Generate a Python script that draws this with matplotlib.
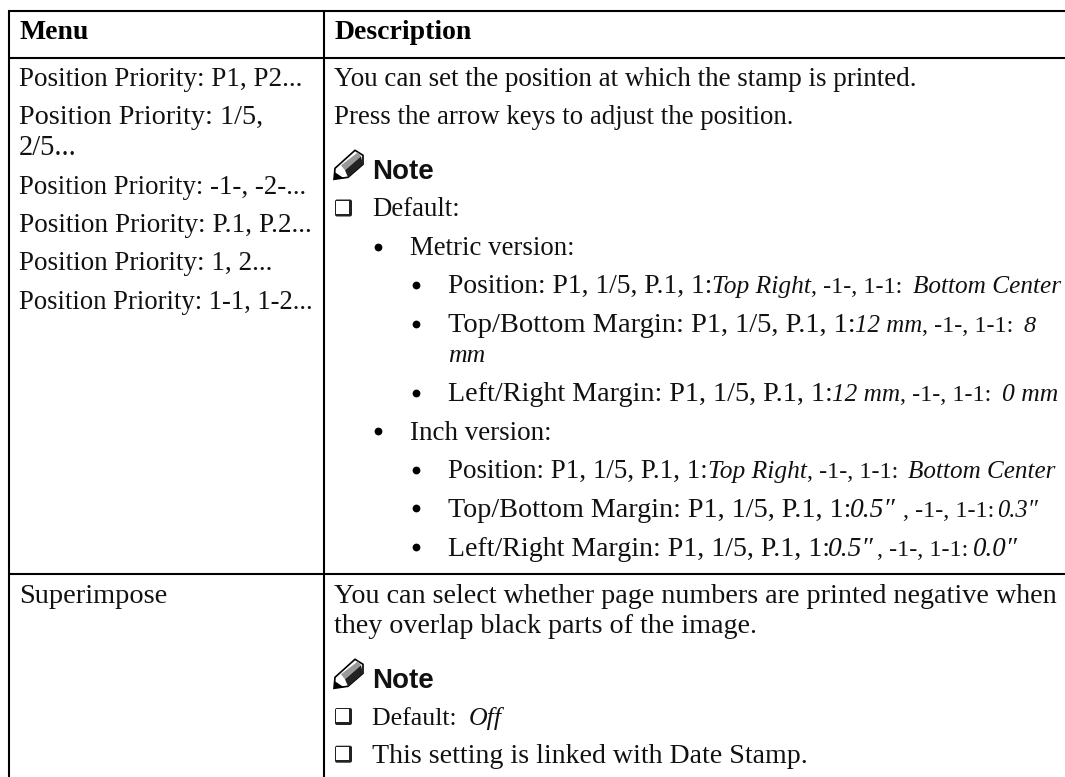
"""
Settings table for the page number stamp, redrawn with matplotlib
"""

import matplotlib
matplotlib.use('Agg')
import matplotlib.pyplot as plt
from matplotlib.patches import Polygon, Rectangle, FancyBboxPatch

W, H = 1065, 777

#table text, a line is a list of (text, italic) pieces
headers = ['Menu', 'Description']

menu_lines = ['Position Priority: P1, P2...',
              'Position Priority: 1/5,',
              '2/5...',
              'Position Priority: -1-, -2-...',
              'Position Priority: P.1, P.2...',
              'Position Priority: 1, 2...',
              'Position Priority: 1-1, 1-2...']

superimpose = 'Superimpose'

intro_1 = ['You can set the position at which the stamp is printed.',
           'Press the arrow keys to adjust the position.']
default_1 = 'Default:'
metric = 'Metric version:'
inch = 'Inch version:'

metric_items = [
    [('Position: P1, 1/5, P.1, 1:', False), ('Top Right', True), (', -1-, 1-1: ', False), ('Bottom Center', True)],
    [('Top/Bottom Margin: P1, 1/5, P.1, 1:', False), ('12 mm', True), (', -1-, 1-1: ', False), ('8', True)],
    [('Left/Right Margin: P1, 1/5, P.1, 1:', False), ('12 mm', True), (', -1-, 1-1: ', False), ('0 mm', True)],
]
inch_items = [
    [('Position: P1, 1/5, P.1, 1:', False), ('Top Right', True), (', -1-, 1-1: ', False), ('Bottom Center', True)],
    [('Top/Bottom Margin: P1, 1/5, P.1, 1:', False), ('0.5\u2033', True), (', -1-, 1-1: ', False), ('0.3\u2033', True)],
    [('Left/Right Margin: P1, 1/5, P.1, 1:', False), ('0.5\u2033', True), (', -1-, 1-1: ', False), ('0.0\u2033', True)],
]

intro_2 = ['You can select whether page numbers are printed negative when',
           'they overlap black parts of the image.']
default_2 = [('Default: ', False), ('Off', True)]
linked = 'This setting is linked with Date Stamp.'

plt.rcParams['font.family'] = ['Liberation Serif', 'DejaVu Sans']
SIZE = 19.4

fig = plt.figure(figsize=(W / 100, H / 100), dpi=100)
ax = fig.add_axes([0, 0, 1, 1])
ax.set_xlim(0, W)
ax.set_ylim(H, 0)
ax.axis('off')
renderer = fig.canvas.get_renderer()


def write(x, y, pieces, ends):
    #each piece is fitted between x and its right end by a small size change
    if isinstance(pieces, str):
        pieces = [(pieces, False)]
    for (txt, italic), end in zip(pieces, ends):
        t = ax.text(x, y, txt, fontsize=SIZE, style='italic' if italic else 'normal',
                    va='baseline', ha='left', color='#111111')
        width = t.get_window_extent(renderer).width
        #the measured width leaves out a trailing space
        room = end - x - (6 if txt.endswith(' ') else 0)
        top = 1.02 if italic else 1.06
        t.set_fontsize(SIZE * min(top, max(0.9, room / width)))
        x = end


def bullet(x, y):
    ax.plot([x], [y], marker='o', ms=5.6, color='black', mew=0)


def checkbox(base):
    ax.add_patch(FancyBboxPatch((335, base - 17), 17, 17, boxstyle='round,pad=0,rounding_size=2',
                                fc='#222222', ec='none'))
    ax.add_patch(Rectangle((336, base - 16), 13, 13, fc='white', ec='none'))


def note(base):
    x = 334
    #pencil icon, white side, grey middle and dark side with a black tip
    ax.add_patch(Polygon([(x, base), (x + 1, base - 11), (x + 21, base - 29), (x + 29, base - 24),
                          (x + 29, base - 15), (x + 14, base - 2)], closed=True, fc='white', ec='black', lw=1.2))
    ax.add_patch(Polygon([(x + 7, base - 14), (x + 24, base - 27), (x + 27, base - 23), (x + 11, base - 9)],
                         closed=True, fc='#999999', ec='none'))
    ax.add_patch(Polygon([(x + 11, base - 9), (x + 27, base - 23), (x + 29, base - 15), (x + 14, base - 2)],
                         closed=True, fc='#222222', ec='none'))
    ax.add_patch(Polygon([(x, base), (x + 1, base - 7), (x + 10, base - 1)], closed=True, fc='black'))
    ax.text(372.5, base, 'Note', fontsize=20, fontweight='bold', family='Liberation Sans',
            va='baseline', ha='left', color='#111111')


#table rules
LW = 1.5
ax.plot([8.5, W], [11, 11], color='black', lw=LW, solid_capstyle='butt')
ax.plot([8.5, W], [58, 58], color='black', lw=LW, solid_capstyle='butt')
ax.plot([8.5, W], [574, 574], color='black', lw=LW, solid_capstyle='butt')
ax.plot([9.3, 9.3], [10, H], color='black', lw=LW, solid_capstyle='butt')
ax.plot([324.2, 324.2], [10, H], color='black', lw=LW, solid_capstyle='butt')

#headers
ax.text(19, 39.3, headers[0], fontsize=SIZE + 0.6, fontweight='bold', va='baseline')
ax.text(334.5, 39.3, headers[1], fontsize=SIZE + 0.6, fontweight='bold', va='baseline')

#left column, baselines and right ends
menu_base = [86, 124, 155, 193.5, 232, 270.5, 309]
menu_ends = [302, 263, 77, 305, 312, 272, 312]
for line, y, end in zip(menu_lines, menu_base, menu_ends):
    write(19, y, line, [end])
write(19, 603, superimpose, [166])

#right column, first row
write(334, 86, intro_1[0], [915])
write(334, 124, intro_1[1], [793])
note(179.3)
checkbox(216.5)
write(372.5, 216.5, default_1, [460])
bullet(378, 247)
write(410, 255, metric, [574])

bullet(416, 285)
write(448, 293, metric_items[0], [712, 811, 913, 1061])
bullet(416, 324)
write(448, 332, metric_items[1], [855, 922, 1023, 1034])
write(448, 362, [('mm', True)], [485])
bullet(416, 393)
write(448, 400.7, metric_items[2], [832, 900, 1002, 1058])

bullet(378, 431)
write(410, 440, inch, [551])
bullet(416, 470)
write(448, 478, inch_items[0], [708, 807, 908, 1055])
bullet(416, 508)
write(448, 517, inch_items[1], [850, 903, 997, 1038])
bullet(416, 547)
write(448, 555.5, inch_items[2], [828, 877, 973, 1018])

#right column, second row
write(334, 602.7, intro_2[0], [1054])
write(334, 632.7, intro_2[1], [754])
note(688.3)
checkbox(725)
write(372.5, 725, default_2, [469, 502])
checkbox(762.7)
write(372.5, 762.7, linked, [805])

fig.savefig('out.png', dpi=100)
